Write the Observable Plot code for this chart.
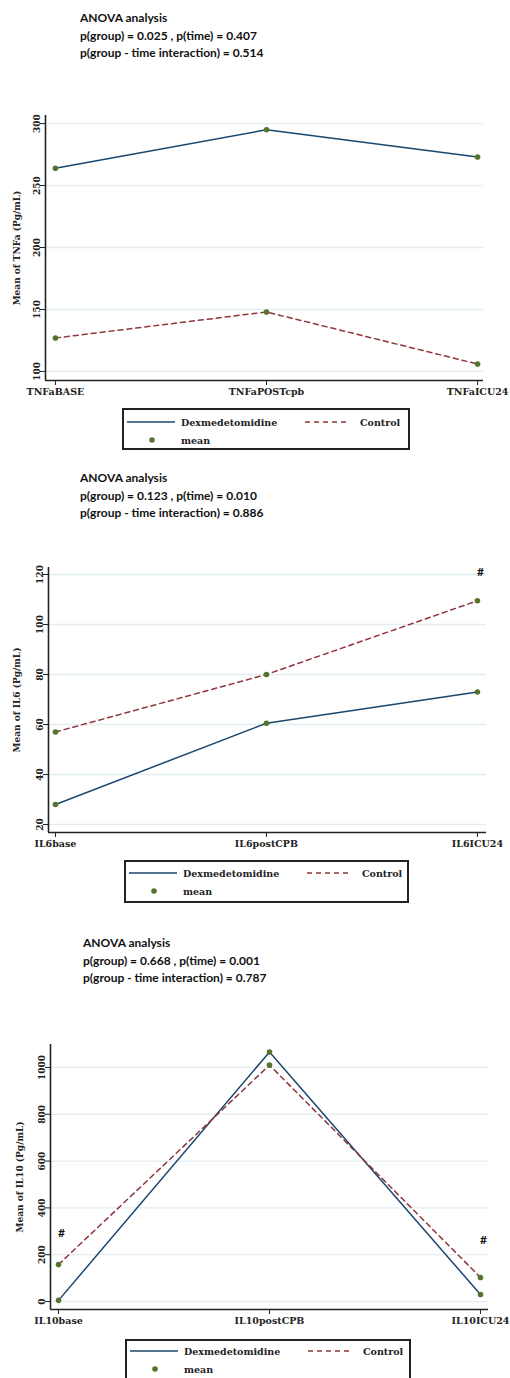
<!DOCTYPE html>
<html><head><meta charset="utf-8">
<script src="https://cdn.jsdelivr.net/npm/d3@7"></script>
<script src="https://cdn.jsdelivr.net/npm/@observablehq/plot@0.6"></script>
<style>
body{margin:0;background:#fff;}
#root{position:relative;width:510px;height:1378px;overflow:hidden;background:#fff;}
.ttl{position:absolute;font-family:Lato,"Open Sans",sans-serif;font-weight:bold;font-size:12px;line-height:17.5px;color:#111;white-space:nowrap;}
.leg{position:absolute;border:2px solid #222;box-sizing:border-box;font-family:"DejaVu Serif",serif;font-weight:bold;font-size:9.5px;color:#222;}
.leg span{position:absolute;white-space:nowrap;transform:translateY(-50%);}
.leg svg{position:absolute;left:0;top:0;overflow:visible;}
.plot{position:absolute;left:0;}
</style></head>
<body><div id="root"></div>
<script>
// ---- data ----
const groups = ["Dexmedetomidine", "Control"];
const legendMean = "mean";

const tnfTitle = ["ANOVA analysis", "p(group) = 0.025 , p(time) = 0.407", "p(group - time interaction) = 0.514"];
const tnfCats = ["TNFaBASE", "TNFaPOSTcpb", "TNFaICU24"];
const tnfDex = [264, 295, 273];
const tnfCtl = [127, 148, 106];
const tnfTicks = [100, 150, 200, 250, 300];
const tnfSig = [];
const tnfYLabel = "Mean of TNFa (Pg/mL)";

const il6Title = ["ANOVA analysis", "p(group) = 0.123 , p(time) = 0.010", "p(group - time interaction) = 0.886"];
const il6Cats = ["IL6base", "IL6postCPB", "IL6ICU24"];
const il6Dex = [28, 60.5, 73];
const il6Ctl = [57, 80, 109.5];
const il6Ticks = [20, 40, 60, 80, 100, 120];
const il6Sig = [{i: 2, v: 121}];
const il6YLabel = "Mean of IL6 (Pg/mL)";

const il10Title = ["ANOVA analysis", "p(group) = 0.668 , p(time) = 0.001", "p(group - time interaction) = 0.787"];
const il10Cats = ["IL10base", "IL10postCPB", "IL10ICU24"];
const il10Dex = [5, 1066, 30];
const il10Ctl = [158, 1010, 103];
const il10Ticks = [0, 200, 400, 600, 800, 1000];
const il10Sig = [{i: 0, v: 291}, {i: 2, v: 261}];
const il10YLabel = "Mean of IL10 (Pg/mL)";

// ---- colours ----
const BLUE = "#1a476f", RED = "#90353b", GREEN = "#55752f";
const root = document.getElementById("root");

function title(lines, left, top) {
  const d = document.createElement("div");
  d.className = "ttl";
  d.style.left = left + "px"; d.style.top = top + "px";
  d.innerHTML = lines.join("<br>");
  root.appendChild(d);
}

function legend(left, top, w, h, r1, r2) {
  const d = document.createElement("div");
  d.className = "leg";
  d.style.left = left + "px"; d.style.top = top + "px";
  d.style.width = w + "px"; d.style.height = h + "px";
  const ns = "http://www.w3.org/2000/svg";
  const s = document.createElementNS(ns, "svg");
  s.setAttribute("width", w); s.setAttribute("height", h);
  s.innerHTML =
    `<line x1="3" x2="51" y1="${r1}" y2="${r1}" stroke="${BLUE}" stroke-width="1.5"/>` +
    `<line x1="181" x2="223" y1="${r1}" y2="${r1}" stroke="${RED}" stroke-width="1.5" stroke-dasharray="5,4"/>` +
    `<circle cx="28" cy="${r2}" r="2.8" fill="${GREEN}"/>`;
  d.appendChild(s);
  const add = (txt, x, y) => { const sp = document.createElement("span"); sp.textContent = txt; sp.style.left = x + "px"; sp.style.top = y + "px"; d.appendChild(sp); };
  add(groups[0], 57, r1); add(groups[1], 236, r1); add(legendMean, 57, r2);
  root.appendChild(d);
}

function chart(o) {
  const rows = [];
  o.cats.forEach((c, i) => {
    rows.push({i, cat: c, group: groups[0], v: o.dex[i]});
    rows.push({i, cat: c, group: groups[1], v: o.ctl[i]});
  });
  const p = Plot.plot({
    width: 510, height: o.height,
    marginTop: o.mt, marginBottom: o.mb, marginLeft: o.ml, marginRight: o.mr,
    x: {domain: o.xdom},
    y: {domain: o.ydom},
    style: {fontFamily: "'DejaVu Serif', serif", fontSize: "9px", fontWeight: "bold", color: "#222", background: "transparent", overflow: "visible"},
    marks: [
      Plot.ruleY(o.ticks, {stroke: "#e4eef1", strokeWidth: 1.3}),
      Plot.axisY({ticks: o.ticks, tickSize: 5, tickRotate: -90, tickPadding: 1, tickFormat: d => String(d),
        label: o.ylabel, labelAnchor: "center", labelOffset: o.labelOffset, labelArrow: "none"}),
      Plot.axisX({ticks: [0, 1, 2], tickSize: 5, tickPadding: 3, tickFormat: i => o.cats[i], label: null, fontSize: 9.5}),
      Plot.ruleX([o.xdom[0]], {stroke: "#222", strokeWidth: 1.6}),
      Plot.ruleY([o.ydom[0]], {stroke: "#222", strokeWidth: 1.6}),
      Plot.line(rows.filter(r => r.group === groups[0]), {x: "i", y: "v", stroke: BLUE, strokeWidth: 1.5}),
      Plot.line(rows.filter(r => r.group === groups[1]), {x: "i", y: "v", stroke: RED, strokeWidth: 1.5, strokeDasharray: "5,4"}),
      Plot.dot(rows, {x: "i", y: "v", r: 2.8, fill: GREEN}),
      Plot.text(o.sig, {x: "i", y: "v", text: () => "#", dx: 3, fontSize: 12, fontFamily: "Lato, sans-serif", fontWeight: "bold", fill: "#111"})
    ]
  });
  p.classList.add("plot");
  p.style.top = o.top + "px";
  root.appendChild(p);
}

// ---- panel 1: TNFa ----
title(tnfTitle, 80, 9);
chart({top: 100, height: 300, mt: 15, mb: 20, ml: 45, mr: 27, xdom: [-0.047, 2.028], ydom: [92.7, 306.5],
  ticks: tnfTicks, cats: tnfCats, dex: tnfDex, ctl: tnfCtl, sig: tnfSig, ylabel: tnfYLabel, labelOffset: 32});
legend(122, 408, 288, 42, 12, 30);

// ---- panel 2: IL6 ----
title(il6Title, 80, 469);
chart({top: 555, height: 300, mt: 12, mb: 23, ml: 48, mr: 24, xdom: [-0.033, 2.043], ydom: [16.8, 122.8],
  ticks: il6Ticks, cats: il6Cats, dex: il6Dex, ctl: il6Ctl, sig: il6Sig, ylabel: il6YLabel, labelOffset: 35});
legend(124, 860, 285, 43, 11, 29);

// ---- panel 3: IL10 ----
title(il10Title, 83, 934);
chart({top: 1030, height: 300, mt: 14, mb: 21, ml: 50, mr: 22, xdom: [-0.038, 2.038], ydom: [-34, 1098],
  ticks: il10Ticks, cats: il10Cats, dex: il10Dex, ctl: il10Ctl, sig: il10Sig, ylabel: il10YLabel, labelOffset: 34});
legend(125, 1339, 286, 44, 10, 28);
</script></body></html>
